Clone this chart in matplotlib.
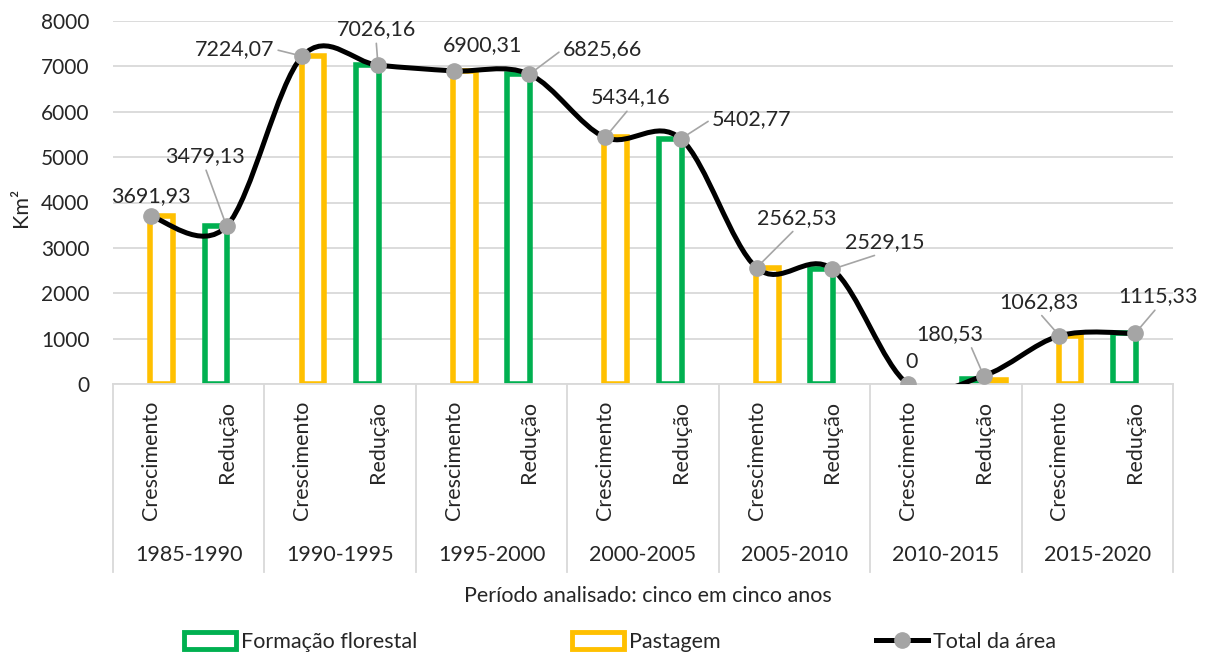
import matplotlib

matplotlib.use("Agg")
import matplotlib.pyplot as plt
import numpy as np
from matplotlib.lines import Line2D
from matplotlib.patches import Patch, PathPatch
from matplotlib.path import Path
from matplotlib.transforms import blended_transform_factory

plt.rcParams["font.family"] = ["Lato", "DejaVu Sans"]

# data
periods = ["1985-1990", "1990-1995", "1995-2000", "2000-2005",
           "2005-2010", "2010-2015", "2015-2020"]
kinds = ["Crescimento", "Redução"]
formacao = [0, 3479.13, 0, 7026.16, 0, 6825.66, 0, 5402.77,
            0, 2529.15, 0, 100, 0, 1115.33]
pastagem = [3691.93, 0, 7224.07, 0, 6900.31, 0, 5434.16, 0,
            2562.53, 0, 0, 80, 1062.83, 0]
total = [3691.93, 3479.13, 7224.07, 7026.16, 6900.31, 6825.66, 5434.16,
         5402.77, 2562.53, 2529.15, 0, 180.53, 1062.83, 1115.33]

GREEN = "#00b050"
YELLOW = "#ffc000"
MARKER = "#a5a5a5"
GRID = "#d9d9d9"
INK = "#262626"
FS = 15.5

# label placement: (dx, dy) in pixels from the point, leader anchor on text
label_pos = [
    ((0, 20), None), ((-22, 70), (0.5, 0)), ((-68, 7), (1, 0.5)),
    ((-2, 36), (0.5, 0)), ((29, 26), None), ((73, 25), (0, 0.5)),
    ((25, 40), (0.5, 0)), ((71, 20), (0, 0.5)), ((40, 50), (0.5, 0)),
    ((52, 27), (0.5, 0)), ((4, 22), None), ((-34, 42), (0.8, 0)),
    ((-21, 34), (0.5, 0)), ((23, 37), (0.5, 0)),
]


def smooth_path(xs, ys):
    # excel-like smoothed line drawn as cubic bezier segments
    pts = np.column_stack([xs, ys]).astype(float)
    n = len(pts)
    verts = [pts[0]]
    codes = [Path.MOVETO]
    for i in range(n - 1):
        p0 = pts[i - 1] if i > 0 else pts[i]
        p1, p2 = pts[i], pts[i + 1]
        p3 = pts[i + 2] if i + 2 < n else pts[i + 1]
        verts += [p1 + (p2 - p0) / 6, p2 - (p3 - p1) / 6, p2]
        codes += [Path.CURVE4] * 3
    return Path(verts, codes)


fig = plt.figure(figsize=(12.08, 6.56), dpi=100)
ax = fig.add_axes([113 / 1208, 1 - 384 / 656, 1060 / 1208, 363 / 656])

x = np.arange(len(total))
off, w = 0.14, 0.30
fx = [xi - off for xi, v in zip(x, formacao) if v > 0]
fv = [v for v in formacao if v > 0]
px = [xi + off for xi, v in zip(x, pastagem) if v > 0]
pv = [v for v in pastagem if v > 0]
ax.bar(fx, fv, w, facecolor="white", edgecolor=GREEN, linewidth=4,
       joinstyle="miter", zorder=2)
ax.bar(px, pv, w, facecolor="white", edgecolor=YELLOW, linewidth=4,
       joinstyle="miter", zorder=2)

ax.add_patch(PathPatch(smooth_path(x, total), fill=False, edgecolor="black",
                       linewidth=3.6, zorder=3, capstyle="round"))
ax.plot(x, total, "o", color=MARKER, markersize=11, zorder=4)

for i, v in enumerate(total):
    txt = "0" if v == 0 else f"{v:.2f}".replace(".", ",")
    (dx, dy), rel = label_pos[i]
    kw = {}
    if rel is not None:
        kw["arrowprops"] = dict(arrowstyle="-", color=MARKER, lw=1.2,
                                relpos=rel, shrinkA=1, shrinkB=4)
    ax.annotate(txt, (i, v), xytext=(dx, dy), textcoords="offset pixels",
                ha="center", va="center", fontsize=FS, color=INK,
                annotation_clip=False, zorder=5, **kw)

ax.set_xlim(-0.5, len(total) - 0.5)
ax.set_ylim(0, 8000)
ax.set_yticks(np.arange(0, 8001, 1000))
ax.yaxis.grid(True, color=GRID, linewidth=1.3)
ax.set_axisbelow(True)
for side in ("top", "right", "left"):
    ax.spines[side].set_visible(False)
ax.spines["bottom"].set_color(GRID)
ax.spines["bottom"].set_linewidth(1.3)
ax.tick_params(axis="y", length=0, pad=17, labelsize=15, labelcolor=INK)
ax.tick_params(axis="x", length=0, pad=12, labelsize=FS, labelcolor=INK)
ax.set_xticks(x)
ax.set_xticklabels([kinds[i % 2] for i in x], rotation=90, va="top")

trans = blended_transform_factory(ax.transData, ax.transAxes)
for b in np.arange(-0.5, len(total), 2):
    ax.add_line(Line2D([b, b], [0, -0.518], transform=trans, color=GRID,
                       linewidth=1.3, clip_on=False))
for g, name in enumerate(periods):
    ax.text(2 * g + 0.5, -0.471, name, transform=trans, ha="center",
            va="center", fontsize=FS, color=INK)

fig.text(21 / 1208, 1 - 207 / 656, "Km²", rotation=90, ha="center",
         va="center", fontsize=FS, color=INK)
fig.text(648 / 1208, 1 - 596 / 656, "Período analisado: cinco em cinco anos",
         ha="center", va="center", fontsize=FS, color=INK)

handles = [
    Patch(facecolor="white", edgecolor=GREEN, linewidth=3.5),
    Patch(facecolor="white", edgecolor=YELLOW, linewidth=3.5),
    Line2D([], [], color="black", linewidth=3.6, marker="o",
           markersize=11, markerfacecolor=MARKER, markeredgecolor=MARKER),
]
fig.legend(handles, ["Formação florestal", "Pastagem", "Total da área"],
           loc="center", bbox_to_anchor=(620 / 1208, 1 - 642 / 656), ncol=3,
           frameon=False, fontsize=FS, handlelength=2.4, handleheight=0.8,
           handletextpad=0.25, columnspacing=7.2, labelcolor=INK)

fig.savefig("out.png", dpi=100, facecolor="white")
